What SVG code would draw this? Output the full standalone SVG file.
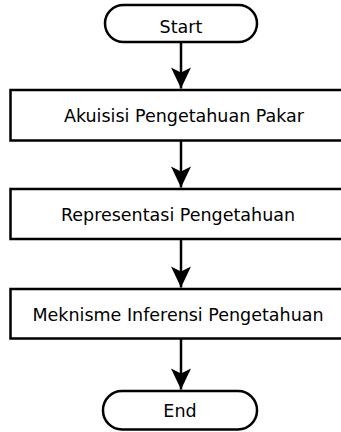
<svg xmlns="http://www.w3.org/2000/svg" width="341" height="432" viewBox="0 0 341 432">
<style>
.shape{fill:#fff;stroke:#000;stroke-width:2.5}
.lbl{font-family:"DejaVu Sans",Verdana,sans-serif;font-size:17.5px;fill:#000;text-anchor:middle}
.conn{stroke:#000;stroke-width:2.5;fill:none}
</style>
<defs>
<marker id="ah" markerUnits="userSpaceOnUse" markerWidth="24" markerHeight="24" viewBox="-22 -12 24 24" refX="0" refY="0" orient="auto">
<path d="M0 0 L-21 -10 L-16 0 L-21 10 Z" fill="#000"/>
</marker>
</defs>
<rect width="341" height="432" fill="#fff"/>
<g id="connectors">
<line class="conn" x1="181" y1="42" x2="181" y2="88.5" marker-end="url(#ah)"/>
<line class="conn" x1="181" y1="141" x2="181" y2="187.5" marker-end="url(#ah)"/>
<line class="conn" x1="181" y1="239" x2="181" y2="287.5" marker-end="url(#ah)"/>
<line class="conn" x1="181" y1="338" x2="181" y2="389.5" marker-end="url(#ah)"/>
</g>
<g id="start">
<rect class="shape" x="105" y="5" width="152" height="37" rx="18.5"/>
<text class="lbl" x="181" y="33">Start</text>
</g>
<g id="akuisisi">
<rect class="shape" x="10.5" y="90" width="345" height="50.5"/>
<text class="lbl" x="184" y="121.5">Akuisisi Pengetahuan Pakar</text>
</g>
<g id="representasi">
<rect class="shape" x="10.5" y="189" width="345" height="50"/>
<text class="lbl" x="178" y="221">Representasi Pengetahuan</text>
</g>
<g id="inferensi">
<rect class="shape" x="10.5" y="289" width="345" height="49.5"/>
<text class="lbl" x="178" y="320.5">Meknisme Inferensi Pengetahuan</text>
</g>
<g id="end">
<rect class="shape" x="103" y="391" width="154" height="38.5" rx="19"/>
<text class="lbl" x="180" y="416.5">End</text>
</g>
</svg>
